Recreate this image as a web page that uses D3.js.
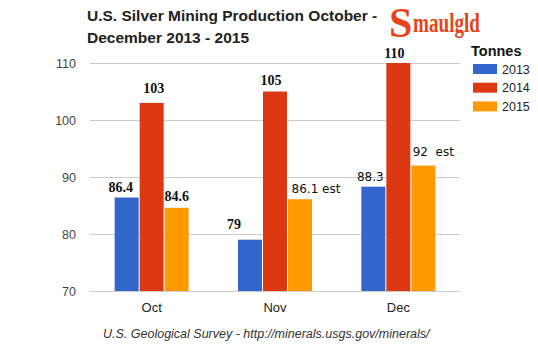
<!DOCTYPE html>
<html>
<head>
<meta charset="utf-8">
<script src="https://cdn.jsdelivr.net/npm/d3@7"></script>
<style>
  html, body { margin: 0; padding: 0; background: #fff; }
  svg { display: block; }
</style>
</head>
<body>
<svg id="chart" width="538" height="348"></svg>
<script>
// Monthly U.S. silver output, tonnes
const months = ["Oct", "Nov", "Dec"];
const years = ["2013", "2014", "2015"];
const values2013 = [86.4, 79, 88.3];
const values2014 = [103, 105, 110];
const values2015 = [84.6, 86.1, 92];
const labels2013 = ["86.4", "79", "88.3"];
const labels2014 = ["103", "105", "110"];
const labels2015 = ["84.6", "86.1 est", "92  est"];
const yTicks = [70, 80, 90, 100, 110];

const colors = { "2013": "#3366cc", "2014": "#dc3912", "2015": "#ff9900" };

// label nudges (dx, dy) and face per bar, by series then month
const labelStyle = {
  "2013": [{dx: -6, dy: -6, serif: true}, {dx: -16, dy: -11, serif: true}, {dx: -3, dy: -6, serif: false}],
  "2014": [{dx: 2, dy: -10, serif: true}, {dx: -4, dy: -7, serif: true}, {dx: -4, dy: -5, serif: true}],
  "2015": [{dx: 0, dy: -7, serif: true}, {dx: 16, dy: -6, serif: false}, {dx: 10, dy: -10, serif: false}]
};

const series = years.map((y, i) => ({
  year: y,
  values: [values2013, values2014, values2015][i],
  labels: [labels2013, labels2014, labels2015][i]
}));

const svg = d3.select("#chart");
const plot = { left: 90, right: 460, top: 63, bottom: 291 };

const x = d3.scaleBand().domain(months).range([plot.left, plot.right]).padding(0);
const groupW = 74;
const xs = d3.scaleBand().domain(years)
  .range([x.bandwidth() / 2 - groupW / 2, x.bandwidth() / 2 + groupW / 2])
  .paddingInner(0.04);
const y = d3.scaleLinear().domain([70, 110]).range([plot.bottom, plot.top]);

// gridlines and y tick labels
const yAxis = d3.axisLeft(y).tickValues(yTicks).tickSize(-(plot.right - plot.left)).tickPadding(14);
const gy = svg.append("g").attr("transform", `translate(${plot.left},0)`).call(yAxis);
gy.select(".domain").remove();
gy.selectAll(".tick line").attr("stroke", "#cccccc").attr("stroke-width", 1);
gy.selectAll(".tick text")
  .attr("font-family", "Arial, 'Liberation Sans', sans-serif")
  .attr("font-size", 12.5).attr("fill", "#444");

// x axis labels
const xAxis = d3.axisBottom(x).tickSize(0).tickPadding(12);
const gx = svg.append("g").attr("transform", `translate(0,${plot.bottom})`).call(xAxis);
gx.select(".domain").remove();
gx.selectAll(".tick text")
  .attr("font-family", "Arial, 'Liberation Sans', sans-serif")
  .attr("font-size", 13).attr("fill", "#222");

// bars
const groups = svg.append("g").selectAll("g").data(series).join("g")
  .attr("fill", d => colors[d.year]);

groups.selectAll("rect")
  .data(d => months.map((m, i) => ({ month: m, year: d.year, value: d.values[i] })))
  .join("rect")
  .attr("x", d => x(d.month) + xs(d.year))
  .attr("width", xs.bandwidth())
  .attr("y", d => y(d.value))
  .attr("height", d => plot.bottom - y(d.value));

// value labels
const lbl = svg.append("g");
series.forEach(s => {
  months.forEach((m, i) => {
    const st = labelStyle[s.year][i];
    lbl.append("text")
      .attr("x", x(m) + xs(s.year) + xs.bandwidth() / 2 + st.dx)
      .attr("y", y(s.values[i]) + st.dy)
      .attr("text-anchor", "middle")
      .attr("font-family", st.serif ? "'Liberation Serif', 'Times New Roman', serif" : "'DejaVu Sans', Tahoma, sans-serif")
      .attr("font-weight", st.serif ? "bold" : "normal")
      .attr("font-size", st.serif ? 14 : 12)
      .attr("fill", "#111")
      .style("white-space", "pre")
      .text(s.labels[i]);
  });
});

// title
const title = svg.append("text")
  .attr("font-family", "Arial, 'Liberation Sans', sans-serif")
  .attr("font-weight", "bold").attr("font-size", 15.5).attr("fill", "#222");
title.append("tspan").attr("x", 87).attr("y", 21).text("U.S. Silver Mining Production October -");
title.append("tspan").attr("x", 87).attr("y", 43).text("December 2013 - 2015");

// masthead wordmark
const logo = svg.append("g").attr("fill", "#e8441a");
logo.append("text").attr("x", 389).attr("y", 37)
  .attr("font-family", "'Liberation Serif', 'Times New Roman', serif")
  .attr("font-weight", "bold").attr("font-size", 42).text("S");
logo.append("text").attr("x", 413).attr("y", 32)
  .attr("font-family", "'Liberation Serif', 'Times New Roman', serif")
  .attr("font-weight", "bold").attr("font-size", 27)
  .attr("textLength", 67).attr("lengthAdjust", "spacingAndGlyphs").text("maulgld");

// legend
svg.append("text").attr("x", 471).attr("y", 56)
  .attr("font-family", "Arial, 'Liberation Sans', sans-serif")
  .attr("font-weight", "bold").attr("font-size", 14.5).attr("fill", "#111").text("Tonnes");
const leg = svg.append("g").selectAll("g").data(years).join("g")
  .attr("transform", (d, i) => `translate(473,${64 + i * 18.7})`);
leg.append("rect").attr("width", 24).attr("height", 10).attr("fill", d => colors[d]);
leg.append("text").attr("x", 29).attr("y", 9.5)
  .attr("font-family", "Arial, 'Liberation Sans', sans-serif")
  .attr("font-size", 12.5).attr("fill", "#222").text(d => d);

// source note
svg.append("text").attr("x", 103).attr("y", 338)
  .attr("font-family", "Arial, 'Liberation Sans', sans-serif")
  .attr("font-style", "italic").attr("font-size", 12.5).attr("fill", "#333")
  .text("U.S. Geological Survey - http://minerals.usgs.gov/minerals/");
</script>
</body>
</html>
